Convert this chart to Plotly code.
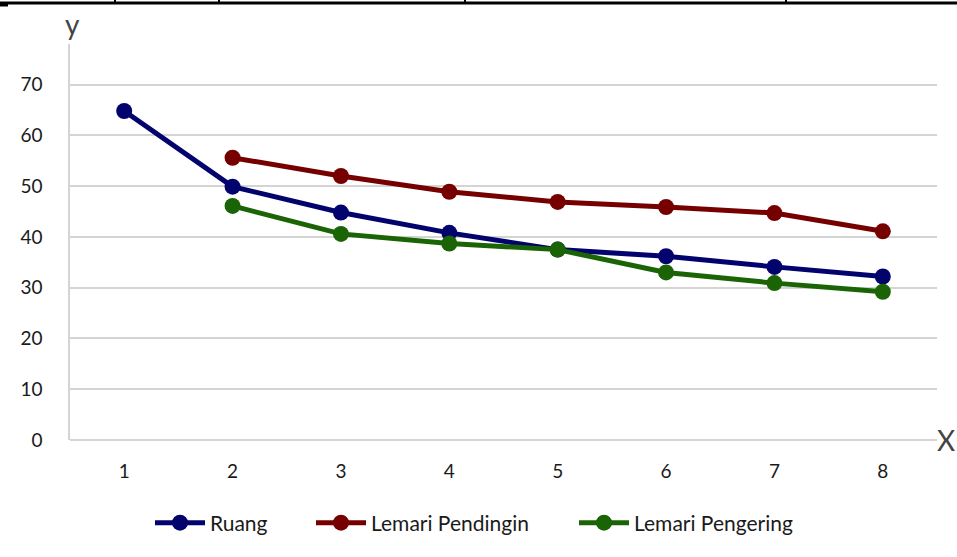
import plotly.graph_objects as go

# Data
x_vals = [1, 2, 3, 4, 5, 6, 7, 8]
ruang = [64.8, 49.9, 44.8, 40.8, 37.5, 36.2, 34.1, 32.2]
lemari_pendingin = [None, 55.6, 52.0, 48.9, 46.9, 45.9, 44.7, 41.1]
lemari_pengering = [None, 46.1, 40.6, 38.7, 37.5, 33.0, 30.9, 29.2]
series_names = ["Ruang", "Lemari Pendingin", "Lemari Pengering"]
series_colors = ["#03036e", "#760000", "#1b6405"]
y_ticks = [0, 10, 20, 30, 40, 50, 60, 70]

W, H = 957, 557
L, R, T, B = 70, 20, 44, 117

font_family = "Lato, Open Sans, sans-serif"
axis_grey = "#d4d4d4"
text_col = "#1a1a1a"


def px_x(p):
    return (p - L) / (W - L - R)


def px_y(p):
    return (H - B - p) / (H - T - B)


# one legend box per series, laid out along the bottom
legend_ids = ["legend", "legend2", "legend3"]
legend_left_px = [150, 311, 574]

fig = go.Figure()
for name, vals, col, lg in zip(series_names, [ruang, lemari_pendingin, lemari_pengering],
                               series_colors, legend_ids):
    fig.add_trace(go.Scatter(
        x=x_vals, y=vals, name=name, mode="lines+markers",
        line=dict(color=col, width=5),
        marker=dict(color=col, size=16),
        connectgaps=False, legend=lg,
    ))

# table border fragments along the top edge
shapes = [dict(type="line", xref="paper", yref="paper",
               x0=px_x(0), x1=px_x(W), y0=px_y(3), y1=px_y(3),
               line=dict(color="black", width=3))]
for vx in [115, 219, 465, 786]:
    shapes.append(dict(type="line", xref="paper", yref="paper",
                       x0=px_x(vx), x1=px_x(vx), y0=px_y(0), y1=px_y(3),
                       line=dict(color="black", width=2)))
shapes.append(dict(type="line", xref="paper", yref="paper",
                   x0=px_x(0), x1=px_x(8), y0=px_y(5), y1=px_y(5),
                   line=dict(color="black", width=3)))

legend_style = dict(orientation="h", yanchor="middle", y=px_y(523), xanchor="left",
                    font=dict(size=21, color=text_col), itemwidth=50,
                    bgcolor="rgba(0,0,0,0)")
legends = {lg: dict(legend_style, x=px_x(lx)) for lg, lx in zip(legend_ids, legend_left_px)}

fig.update_layout(
    width=W, height=H,
    margin=dict(l=L, r=R, t=T, b=B),
    paper_bgcolor="white", plot_bgcolor="white",
    font=dict(family=font_family, color=text_col, size=19),
    xaxis=dict(
        range=[0.5, 8.5], tickvals=x_vals, ticktext=[str(v) for v in x_vals],
        showgrid=False, zeroline=False, showline=False, ticks="",
        tickfont=dict(size=19, color=text_col), ticklabelstandoff=18,
    ),
    yaxis=dict(
        range=[0, 78], tickvals=y_ticks, showgrid=True, gridcolor=axis_grey,
        gridwidth=1.5, zeroline=True, zerolinecolor=axis_grey, zerolinewidth=1.5,
        showline=True, linecolor=axis_grey, linewidth=1.5, ticks="",
        tickfont=dict(size=19, color=text_col), ticklabelstandoff=22,
    ),
    annotations=[
        dict(text="y", xref="paper", yref="paper", x=px_x(72), y=px_y(24),
             showarrow=False, font=dict(size=28, color="#444444"), xanchor="center", yanchor="middle"),
        dict(text="X", xref="paper", yref="paper", x=px_x(946), y=px_y(440),
             showarrow=False, font=dict(size=28, color="#444444"), xanchor="center", yanchor="middle"),
    ],
    shapes=shapes,
    showlegend=True,
    **legends,
)

fig.write_html("out.html")
